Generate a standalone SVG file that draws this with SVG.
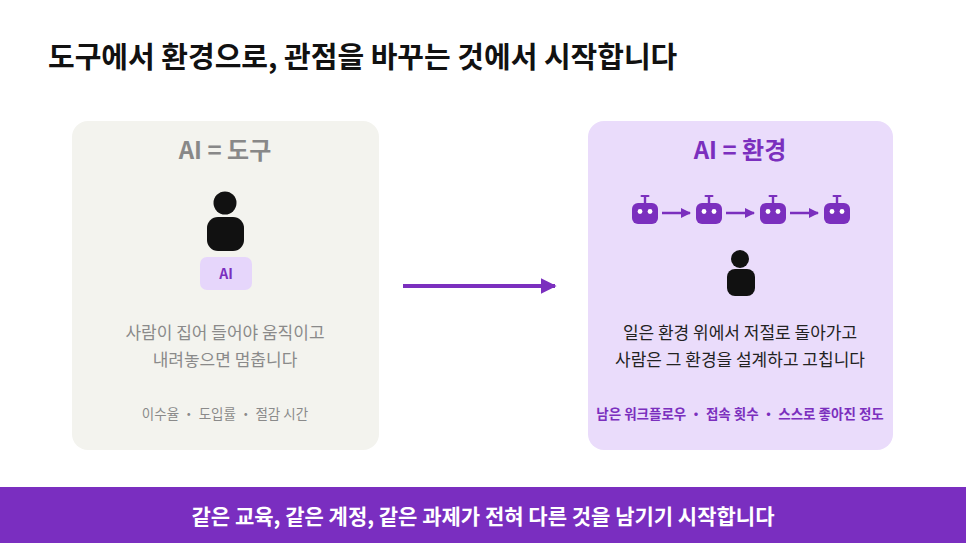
<svg xmlns="http://www.w3.org/2000/svg" width="966" height="543" viewBox="0 0 966 543">
<style>
text{font-family:"Noto Sans CJK KR","Noto Sans",sans-serif}
.p{fill:#7b2fbe}
.k{fill:#111}
.g{fill:#8a8a8a}
</style>
<defs>
<marker id="ah" viewBox="0 0 10 10" refX="9" refY="5" markerWidth="4" markerHeight="4" orient="auto"><path d="M0 0L10 5L0 10z" fill="#7b2fbe"/></marker>
<g id="robot"><rect x="-13" y="0" width="26" height="21" rx="6" class="p"/><rect x="-1.2" y="-7" width="2.4" height="7" class="p"/><rect x="-4.5" y="-8" width="9" height="2" rx="1" class="p"/><circle cx="-5" cy="8.5" r="2.4" fill="#fff"/><circle cx="5" cy="8.5" r="2.4" fill="#fff"/></g>
</defs>
<rect width="966" height="543" fill="#fff"/>
<text x="48" y="68" font-size="29" font-weight="700" fill="#111">도구에서 환경으로, 관점을 바꾸는 것에서 시작합니다</text>
<g id="left">
<rect x="72" y="121" width="307" height="329" rx="16" fill="#f3f3ee"/>
<text x="225" y="159" font-size="24" font-weight="700" fill="#888" text-anchor="middle">AI = 도구</text>
<circle cx="225" cy="203" r="11.5" class="k"/>
<rect x="207" y="217" width="37" height="34" rx="11" class="k"/>
<rect x="200" y="257" width="52" height="33" rx="7" fill="#e6d6fb"/>
<text x="226" y="279" font-size="14" font-weight="700" class="p" text-anchor="middle">AI</text>
<text x="225" y="339" font-size="17" class="g" text-anchor="middle">사람이 집어 들어야 움직이고</text>
<text x="225" y="366" font-size="17" class="g" text-anchor="middle">내려놓으면 멈춥니다</text>
<text x="225" y="419" font-size="13.5" class="g" text-anchor="middle">이수율 ・ 도입률 ・ 절감 시간</text>
</g>
<g id="right">
<rect x="588" y="121" width="305" height="329" rx="16" fill="#eadcfb"/>
<text x="740" y="159" font-size="24" font-weight="700" class="p" text-anchor="middle">AI = 환경</text>
<use href="#robot" x="645" y="203"/>
<use href="#robot" x="709" y="203"/>
<use href="#robot" x="773" y="203"/>
<use href="#robot" x="837" y="203"/>
<circle cx="740" cy="259" r="9" class="k"/>
<rect x="727" y="269" width="28" height="27" rx="8" class="k"/>
<text x="740" y="339" font-size="17" fill="#222" text-anchor="middle">일은 환경 위에서 저절로 돌아가고</text>
<text x="740" y="366" font-size="17" fill="#222" text-anchor="middle">사람은 그 환경을 설계하고 고칩니다</text>
<text x="740" y="419" font-size="13.5" font-weight="700" class="p" text-anchor="middle">남은 워크플로우 ・ 접속 횟수 ・ 스스로 좋아진 정도</text>
</g>
<g id="connectors" stroke="#7b2fbe" fill="none">
<line x1="403" y1="286" x2="555" y2="286" stroke-width="4" marker-end="url(#ah)"/>
<line x1="662" y1="213" x2="690" y2="213" stroke-width="2.5" marker-end="url(#ah)"/>
<line x1="726" y1="213" x2="754" y2="213" stroke-width="2.5" marker-end="url(#ah)"/>
<line x1="790" y1="213" x2="818" y2="213" stroke-width="2.5" marker-end="url(#ah)"/>
</g>
<rect x="0" y="487" width="966" height="56" fill="#7a2ec0"/>
<text x="483" y="524" font-size="21" font-weight="700" fill="#fff" text-anchor="middle">같은 교육, 같은 계정, 같은 과제가 전혀 다른 것을 남기기 시작합니다</text>
</svg>
